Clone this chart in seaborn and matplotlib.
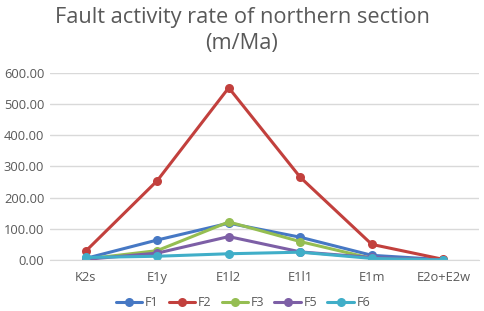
import pandas as pd
import matplotlib.pyplot as plt
import seaborn as sns

# data
stages = ['K2s', 'E1y', 'E1l2', 'E1l1', 'E1m', 'E2o+E2w']
f1 = [5, 64, 118, 73, 15, 1]
f2 = [28, 254, 552, 265, 50, 2]
f3 = [3, 30, 122, 59, 5, 0]
f5 = [2, 22, 75, 26, 8, 0]
f6 = [8, 12, 20, 25, 5, 0]
faults = ['F1', 'F2', 'F3', 'F5', 'F6']
colors = ['#4678C4', '#C2403D', '#95BE52', '#7D5FA6', '#40AEC8']

rows = []
for name, vals in zip(faults, [f1, f2, f3, f5, f6]):
    for st, v in zip(stages, vals):
        rows.append({'stage': st, 'rate': v, 'fault': name})
df = pd.DataFrame(rows)

sns.set_style('white')
plt.rcParams['font.family'] = ['Open Sans', 'DejaVu Sans']

fig = plt.figure(figsize=(4.84, 3.11), dpi=100)
ax = fig.add_axes([0.103, 0.164, 0.887, 0.602])
sns.lineplot(data=df, x='stage', y='rate', hue='fault', palette=colors,
             marker='o', markersize=6.5, markeredgewidth=0, linewidth=2.2, ax=ax)

ax.set_xlim(-0.5, 5.5)
ax.set_ylim(0, 600)
ax.set_yticks(range(0, 601, 100))
ax.set_yticklabels([f'{v:.2f}' for v in range(0, 601, 100)])
ax.yaxis.grid(True, color='#D9D9D9', linewidth=1)
ax.set_axisbelow(True)
for s in ['top', 'right', 'left']:
    ax.spines[s].set_visible(False)
ax.spines['bottom'].set_color('#D9D9D9')
ax.tick_params(axis='y', length=0, labelsize=9.3, colors='#595959', pad=4)
ax.tick_params(axis='x', length=0, labelsize=9.3, colors='#595959', pad=8)
ax.set_xlabel('')
ax.set_ylabel('')

fig.suptitle('Fault activity rate of northern section\n(m/Ma)', y=0.978,
             fontsize=15.7, color='#595959', linespacing=1.3)
ax.legend(loc='center', bbox_to_anchor=(0.45, -0.229), ncol=5,
          frameon=False, fontsize=9, handlelength=2.1, columnspacing=0.8,
          handletextpad=0.25, labelcolor='#595959')

fig.savefig('out.png', dpi=100)
